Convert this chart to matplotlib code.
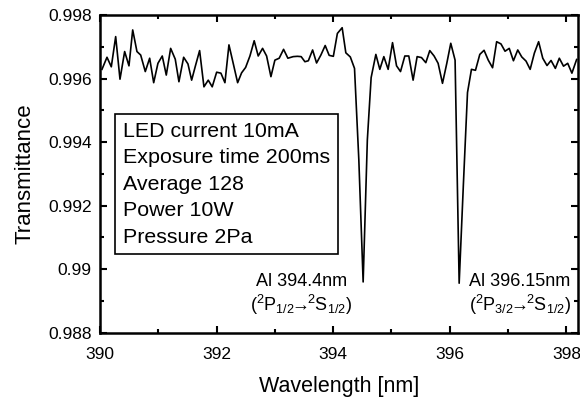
import matplotlib
matplotlib.use('Agg')
import matplotlib.pyplot as plt
from matplotlib.ticker import MultipleLocator, FuncFormatter

plt.rcParams['font.family'] = ['Liberation Sans', 'DejaVu Sans']
plt.rcParams['mathtext.default'] = 'regular'

# spectrum (wavelength in nm, transmittance)
wavelength = [
    390.034, 390.120, 390.194, 390.269, 390.343, 390.423, 390.497, 390.561,
    390.634, 390.698, 390.777, 390.852, 390.921, 390.994, 391.068, 391.137,
    391.212, 391.291, 391.354, 391.435, 391.509, 391.572, 391.637, 391.709,
    391.783, 391.857, 391.925, 392.001, 392.074, 392.143, 392.212, 392.285,
    392.361, 392.429, 392.498, 392.572, 392.645, 392.714, 392.789, 392.858,
    392.932, 393.000, 393.074, 393.149, 393.223, 393.314, 393.386, 393.451,
    393.515, 393.574, 393.647, 393.715, 393.789, 393.863, 393.931, 394.003,
    394.072, 394.154, 394.217, 394.294, 394.366, 394.440, 394.514, 394.586,
    394.651, 394.732, 394.800, 394.869, 394.943, 395.018, 395.087, 395.155,
    395.229, 395.297, 395.371, 395.440, 395.515, 395.589, 395.657, 395.731,
    395.800, 395.875, 395.949, 396.017, 396.091, 396.161, 396.233, 396.304,
    396.372, 396.441, 396.515, 396.588, 396.660, 396.734, 396.804, 396.878,
    396.948, 397.020, 397.092, 397.166, 397.235, 397.308, 397.379, 397.451,
    397.524, 397.595, 397.668, 397.737, 397.811, 397.879, 397.951, 398.023,
    398.095, 398.176,
]
transmittance = [
    0.99629, 0.99667, 0.99637, 0.99732, 0.99598, 0.99685, 0.99640, 0.99753,
    0.99685, 0.99674, 0.99622, 0.99664, 0.99587, 0.99648, 0.99671, 0.99611,
    0.99695, 0.99661, 0.99590, 0.99667, 0.99646, 0.99595, 0.99640, 0.99688,
    0.99574, 0.99595, 0.99574, 0.99620, 0.99617, 0.99587, 0.99706, 0.99648,
    0.99587, 0.99618, 0.99635, 0.99671, 0.99719, 0.99671, 0.99695, 0.99671,
    0.99606, 0.99658, 0.99664, 0.99692, 0.99664, 0.99669, 0.99670, 0.99669,
    0.99653, 0.99656, 0.99690, 0.99649, 0.99674, 0.99704, 0.99673, 0.99670,
    0.99742, 0.99760, 0.99681, 0.99668, 0.99632, 0.99344, 0.98960, 0.99407,
    0.99603, 0.99676, 0.99629, 0.99669, 0.99629, 0.99713, 0.99640, 0.99622,
    0.99671, 0.99671, 0.99595, 0.99669, 0.99666, 0.99650, 0.99688, 0.99671,
    0.99648, 0.99585, 0.99648, 0.99711, 0.99658, 0.98956, 0.99265, 0.99556,
    0.99629, 0.99626, 0.99676, 0.99689, 0.99658, 0.99634, 0.99716, 0.99709,
    0.99686, 0.99695, 0.99656, 0.99690, 0.99668, 0.99655, 0.99629, 0.99680,
    0.99716, 0.99664, 0.99641, 0.99657, 0.99632, 0.99664, 0.99639, 0.99648,
    0.99617, 0.99660,
]

conditions = ['LED current 10mA', 'Exposure time 200ms', 'Average 128',
              'Power 10W', 'Pressure 2Pa']

line_labels = ['Al 394.4nm', 'Al 396.15nm']
line_terms = [r'($^2$P$_{1/2}\!\!\rightarrow\!\!{}^2$S$_{1/2}$)',
              r'($^2$P$_{3/2}\!\!\rightarrow\!\!{}^2$S$_{1/2}$)']
label_x = [393.45, 397.2]
label_y = [0.98961, 0.98887]

fig = plt.figure(figsize=(5.8, 4.0), dpi=100)
ax = fig.add_axes([0.1724, 0.168, 0.8242, 0.7945])

ax.plot(wavelength, transmittance, color='black', linewidth=1.2)

ax.set_xlim(390, 398.2)
ax.set_ylim(0.988, 0.998)
ax.xaxis.set_major_locator(MultipleLocator(2))
ax.xaxis.set_minor_locator(MultipleLocator(1))
ax.yaxis.set_major_locator(MultipleLocator(0.002))
ax.yaxis.set_minor_locator(MultipleLocator(0.001))
ax.yaxis.set_major_formatter(FuncFormatter(lambda v, p: '%g' % round(v, 4)))
ax.xaxis.set_major_formatter(FuncFormatter(lambda v, p: '%g' % v))

ax.tick_params(which='both', direction='in', top=True, right=True, width=1.5)
ax.tick_params(which='major', length=5, labelsize=12.5)
ax.tick_params(axis='y', which='major', pad=6)
ax.tick_params(axis='x', which='major', pad=10)
ax.tick_params(which='minor', length=3)
for s in ax.spines.values():
    s.set_linewidth(1.8)

ax.set_xlabel('Wavelength [nm]', fontsize=15.5, labelpad=10)
ax.set_ylabel('Transmittance', fontsize=16, labelpad=9)

ax.text(0.048, 0.664, '\n'.join(conditions), transform=ax.transAxes,
        fontsize=15.4, va='top', ha='left', linespacing=1.5,
        bbox=dict(boxstyle='square,pad=0.35', facecolor='white',
                  edgecolor='black', linewidth=1.2))

for i in range(2):
    ax.text(label_x[i], label_y[0], line_labels[i], fontsize=13,
            ha='center', va='center')
    ax.text(label_x[i], label_y[1], line_terms[i], fontsize=13,
            ha='center', va='center')

fig.savefig('out.png', dpi=100)
